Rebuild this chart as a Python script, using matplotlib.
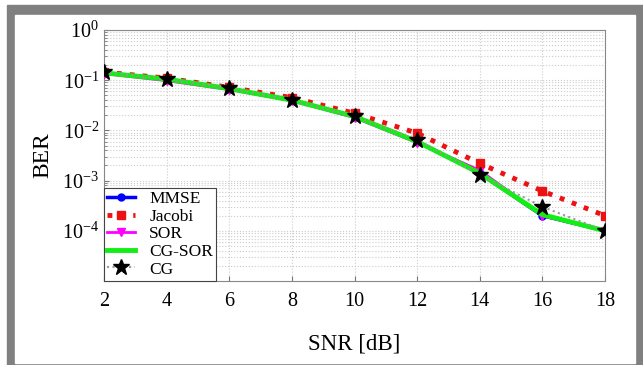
import matplotlib as mplib
mplib.use('Agg')
import matplotlib.pyplot as plt
from matplotlib.patches import Rectangle

snr = [2, 4, 6, 8, 10, 12, 14, 16, 18]
mmse = [0.14, 0.105, 0.068, 0.040, 0.019, 0.0060, 0.0014, 0.00020, 0.00010]
jacobi = [0.145, 0.11, 0.072, 0.045, 0.022, 0.0088, 0.0022, 0.00062, 0.00020]
sor = [0.135, 0.098, 0.065, 0.039, 0.018, 0.0057, 0.0016, 0.00020, 0.00010]
cgsor = [0.14, 0.105, 0.068, 0.040, 0.019, 0.0060, 0.0014, 0.00021, 0.00010]
cg = [0.145, 0.105, 0.070, 0.040, 0.019, 0.0065, 0.0013, 0.00030, 0.00010]
yticks = [1e0, 1e-1, 1e-2, 1e-3, 1e-4]

mplib.rc('font', family='Liberation Serif', size=14)
mplib.rc('mathtext', fontset='custom', rm='Liberation Serif', it='Liberation Serif:italic')

W, H = 643, 365
fig = plt.figure(figsize=(W / 100, H / 100), dpi=100, facecolor='white')

# gray frame around the picture
def fr(x0, y0, x1, y1, c):
    fig.patches.append(Rectangle((x0 / W, 1 - y1 / H), (x1 - x0) / W, (y1 - y0) / H,
                                 transform=fig.transFigure, color=c, zorder=-10))
fr(7, 5, 643, 365, '#808080')
fr(15, 15, 635, 363, 'white')

ax = fig.add_axes([104 / W, 1 - 281 / H, (605 - 104) / W, (281 - 30) / H])
ax.set_facecolor('white')

ax.semilogy(snr, mmse, color='blue', linestyle='-', linewidth=2.5, marker='o',
            markersize=5, label='MMSE', zorder=3)
ax.semilogy(snr, jacobi, color='#ee1111', linestyle=':', linewidth=3.5, marker='s',
            markersize=6, label='Jacobi', zorder=4)
ax.semilogy(snr, sor, color='magenta', linestyle='-', linewidth=2, marker='v',
            markersize=6, label='SOR', zorder=3)
ax.semilogy(snr, cgsor, color='#11ee11', linestyle='-', linewidth=3.5,
            label='CG-SOR', zorder=5)
ax.semilogy(snr, cg, color='#999999', linestyle=':', linewidth=1.5, marker='*',
            markersize=12, markerfacecolor='black', markeredgecolor='black',
            label='CG', zorder=6)

ax.set_xlim(2, 18)
ax.set_ylim(1e-5, 1e0)
ax.set_xticks(snr)
ax.set_yticks(yticks)
ax.grid(True, which='major', color='#cccccc', linestyle=':', linewidth=0.8)
ax.grid(True, which='minor', axis='y', color='#cccccc', linestyle=':', linewidth=0.8)
ax.tick_params(which='both', direction='in', color='#777777')
ax.tick_params(axis='x', pad=8, labelsize=14.5)
ax.tick_params(axis='y', labelsize=14.5)
for s in ax.spines.values():
    s.set_color('#888888')

ax.set_xlabel('SNR [dB]', fontsize=16.5, labelpad=16)
ax.set_ylabel('BER', fontsize=17, labelpad=6)

leg = ax.legend(loc='lower left', fontsize=12.5, fancybox=False, framealpha=1,
                edgecolor='#444444', borderaxespad=0, handlelength=1.6,
                labelspacing=0.08, borderpad=0.2, handletextpad=0.8)
leg.get_frame().set_linewidth(0.8)

fig.savefig('out.png', dpi=100, facecolor=fig.get_facecolor())
plt.close('all')
